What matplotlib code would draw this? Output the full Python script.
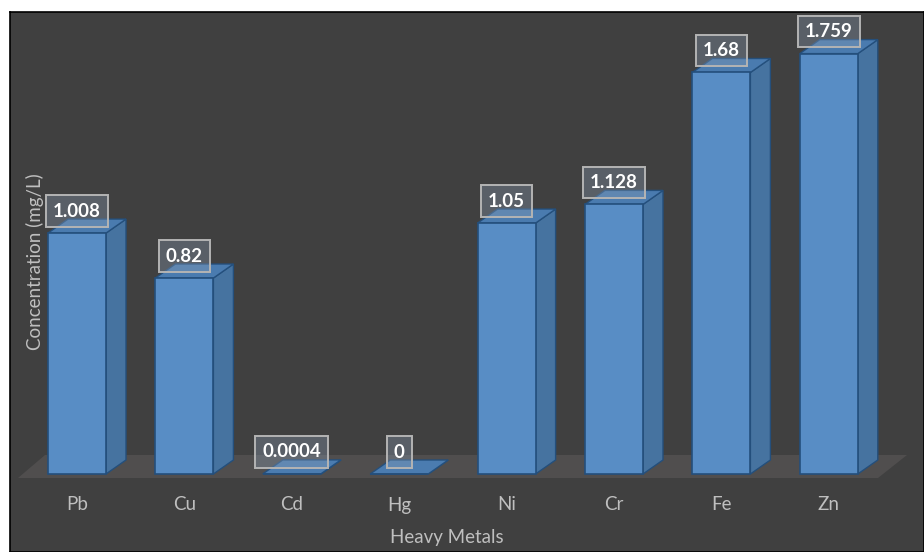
import matplotlib.pyplot as plt
from matplotlib.patches import Polygon

# datos
metals = ['Pb', 'Cu', 'Cd', 'Hg', 'Ni', 'Cr', 'Fe', 'Zn']
conc = [1.008, 0.82, 0.0004, 0, 1.05, 1.128, 1.68, 1.759]
value_labels = ['1.008', '0.82', '0.0004', '0', '1.05', '1.128', '1.68', '1.759']

plt.rcParams['font.family'] = ['Lato', 'DejaVu Sans']

W, H = 924, 552
fig = plt.figure(figsize=(W / 100, H / 100), dpi=100)
fig.patch.set_facecolor('white')

# mapeo pixel -> datos: x=0 en 77px, 107.4 px por categoria; y=0 en 474px, 239 px por unidad
px_x, x0 = 107.4, 77
px_y, y0 = 239.0, 474
ax = fig.add_axes([10 / W, 0, 914 / W, 540 / H])
ax.set_facecolor('#404040')
for s in ax.spines.values():
    s.set_color('black')
    s.set_linewidth(1.2)
ax.set_xticks([])
ax.set_yticks([])
ax.set_xlim((10 - x0) / px_x, (924 - x0) / px_x)
ax.set_ylim((y0 - 552) / px_y, (y0 - 12) / px_y)

# piso
fl = [((18 - x0) / px_x, -4 / px_y), ((878 - x0) / px_x, -4 / px_y),
      ((907 - x0) / px_x, 19 / px_y), ((45 - x0) / px_x, 19 / px_y)]
ax.add_patch(Polygon(fl, closed=True, facecolor='#504e4e', edgecolor='none', zorder=1))

bw = 58 / px_x
dx, dy = 20 / px_x, 14 / px_y
edge = '#244f7c'
for i, v in enumerate(conc):
    xl, xr = i - bw / 2, i + bw / 2
    # cara lateral
    ax.add_patch(Polygon([(xr, 0), (xr + dx, dy), (xr + dx, v + dy), (xr, v)],
                         facecolor='#4673a0', edgecolor=edge, linewidth=1, zorder=3))
    # cara superior
    ax.add_patch(Polygon([(xl, v), (xr, v), (xr + dx, v + dy), (xl + dx, v + dy)],
                         facecolor='#4b7fb6', edgecolor=edge, linewidth=1, zorder=3, alpha=0.95))
    # cara frontal
    ax.bar(i, v, width=bw, color='#588dc5', edgecolor=edge, linewidth=1.2, zorder=4)

    ax.text(i, v + 22 / px_y, value_labels[i], ha='center', va='center', color='white',
            fontsize=13.5, fontweight='bold', zorder=6,
            bbox=dict(boxstyle='square,pad=0.38', facecolor=(0.56, 0.63, 0.72, 0.33),
                      edgecolor='#b4b4b4', linewidth=1.4))

    ax.text(i, (y0 - 505) / px_y, metals[i], ha='center', va='center',
            color='#bfbfbf', fontsize=13.5)

ax.text((447 - x0) / px_x, (y0 - 537) / px_y, 'Heavy Metals', ha='center', va='center',
        color='#bfbfbf', fontsize=13.5)
ax.text((35 - x0) / px_x, (y0 - 262) / px_y, 'Concentration (mg/L)', ha='center', va='center',
        rotation=90, color='#bfbfbf', fontsize=13.5)

fig.savefig('out.png', dpi=100, facecolor=fig.get_facecolor())
